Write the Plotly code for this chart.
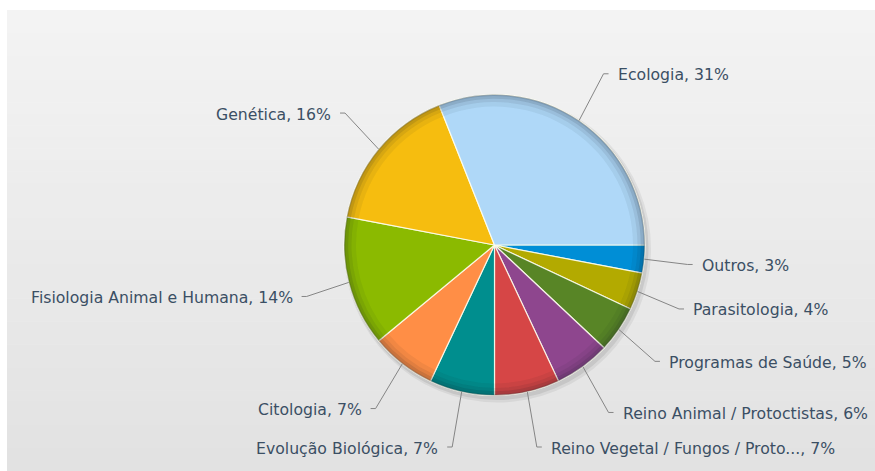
import math
import plotly.graph_objects as go

# ---- data ----
categories = ["Ecologia", "Genética", "Fisiologia Animal e Humana", "Citologia",
              "Evolução Biológica", "Reino Vegetal / Fungos / Proto...",
              "Reino Animal / Protoctistas", "Programas de Saúde", "Parasitologia", "Outros"]
percentages = [31, 16, 14, 7, 7, 7, 6, 5, 4, 3]
colors = ["#AFD8F8", "#F6BD0F", "#8BBA00", "#FF8E46", "#008E8E",
          "#D64646", "#8E468E", "#588526", "#B3AA00", "#008ED6"]

W, H = 875, 471
CX, CY, R = 494.5, 245.0, 150.5
RX_CORNER, RY_CORNER = 194.0, 207.0
TAIL = 5.0
TEXT_GAP = 12.0


def px(x):
    return x / W


def py(y):
    return 1 - y / H


dom_x = [px(CX - R), px(CX + R)]
dom_y = [py(CY + R), py(CY - R)]

# slices drawn clockwise from 3 o'clock, in reverse data order
labs_cw = categories[::-1]
vals_cw = percentages[::-1]
cols_cw = colors[::-1]

fig = go.Figure()

# soft drop shadow
for off, grow, alpha in [(3, 3, 0.06), (2, 1.5, 0.08)]:
    fig.add_trace(go.Pie(
        values=[1], marker=dict(colors=[f"rgba(0,0,0,{alpha})"], line=dict(width=0)),
        domain=dict(x=[px(CX - R - grow + off), px(CX + R + grow + off)],
                    y=[py(CY + R + grow + off + 1), py(CY - R - grow + off + 1)]),
        textinfo="none", hoverinfo="skip", showlegend=False, sort=False))

# main pie
fig.add_trace(go.Pie(
    labels=labs_cw, values=vals_cw, sort=False,
    direction="clockwise", rotation=90,
    marker=dict(colors=cols_cw, line=dict(color="rgba(255,255,240,0.85)", width=1.2)),
    domain=dict(x=dom_x, y=dom_y),
    textinfo="none", hoverinfo="label+percent", showlegend=False))

# edge shading rings (bevel look)
for hole, alpha in [(0.92, 0.06), (0.95, 0.08), (0.972, 0.11), (0.99, 0.14)]:
    fig.add_trace(go.Pie(
        labels=labs_cw, values=vals_cw, sort=False,
        direction="clockwise", rotation=90, hole=hole,
        marker=dict(colors=[f"rgba(20,30,40,{alpha})"] * len(vals_cw), line=dict(width=0)),
        domain=dict(x=dom_x, y=dom_y),
        textinfo="none", hoverinfo="skip", showlegend=False))

shapes = []
# background panel with vertical gradient
top, bottom = 10, H
n = 40
c0, c1 = (243, 243, 243), (226, 226, 226)
for i in range(n):
    t = i / (n - 1)
    c = tuple(int(round(c0[k] + (c1[k] - c0[k]) * t)) for k in range(3))
    y0 = top + (bottom - top) * i / n
    y1 = top + (bottom - top) * (i + 1) / n + 0.5
    shapes.append(dict(type="rect", xref="paper", yref="paper", layer="below",
                       x0=px(7), x1=1, y0=max(0, py(y1)), y1=py(y0),
                       fillcolor=f"rgb{c}", line=dict(width=0)))

annotations = []
cum = 0.0
total = sum(percentages)
for name, v in zip(categories, percentages):
    mid = (cum + v / 2) / total
    cum += v
    a = math.radians(-360 * mid)  # screen angle, counterclockwise from 3 o'clock
    ca, sa = math.cos(a), math.sin(a)
    ex, ey = CX + R * ca, CY + R * sa
    kx, ky = CX + RX_CORNER * ca, CY + RY_CORNER * sa
    right = ca >= 0
    sgn = 1 if right else -1
    tx = kx + sgn * TAIL
    path = f"M {px(ex)},{py(ey)} L {px(kx)},{py(ky)} L {px(tx)},{py(ky)}"
    shapes.append(dict(type="path", xref="paper", yref="paper", path=path,
                       line=dict(color="#858585", width=1)))
    annotations.append(dict(
        x=px(kx + sgn * TEXT_GAP), y=py(ky + 1), xref="paper", yref="paper",
        xanchor="left" if right else "right", yanchor="middle",
        text=f"{name}, {v}%", showarrow=False,
        font=dict(family="DejaVu Sans, Verdana, sans-serif", size=15.7, color="#3B4F64")))

fig.update_layout(
    width=W, height=H, margin=dict(l=0, r=0, t=0, b=0),
    paper_bgcolor="white", plot_bgcolor="white",
    shapes=shapes, annotations=annotations, showlegend=False)

fig.write_html(
    "out.html",
    config={"displayModeBar": False},
    post_script="document.body.style.margin='0';document.body.style.overflow='hidden';")
